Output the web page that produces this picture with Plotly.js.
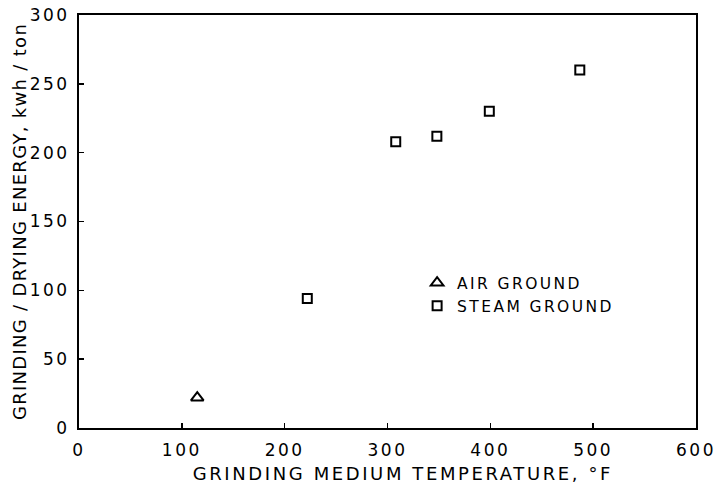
<!DOCTYPE html>
<html>
<head>
<meta charset="utf-8">
<script src="https://cdn.plot.ly/plotly-3.0.1.min.js"></script>
<style>
body{margin:0;background:#fff}
#chart{width:716px;height:490px}
#chart .ytitle{letter-spacing:1.3px}
#chart .xtick text,#chart .ytick text{letter-spacing:2.5px}
#chart .legendtext{letter-spacing:2.4px}
#chart .legend *{clip-path:none !important}
</style>
</head>
<body>
<div id="chart"></div>
<script>
var airTemp = [115];
var airEnergy = [22];
var steamTemp = [222, 308, 348, 399, 487];
var steamEnergy = [94, 208, 212, 230, 260];
var xTicks = [0, 100, 200, 300, 400, 500, 600];
var yTicks = [0, 50, 100, 150, 200, 250, 300];

var font = "DejaVu Sans, sans-serif";
var traces = [
  {x: airTemp, y: airEnergy, type: 'scatter', mode: 'markers', name: 'AIR GROUND',
   marker: {symbol: 'triangle-up-open', size: 11, color: '#000', line: {width: 2, color: '#000'}}},
  {x: steamTemp, y: steamEnergy, type: 'scatter', mode: 'markers', name: 'STEAM GROUND',
   marker: {symbol: 'square-open', size: 9, color: '#000', line: {width: 2, color: '#000'}}}
];
var layout = {
  width: 716, height: 490,
  margin: {l: 79, r: 20, t: 15, b: 62},
  paper_bgcolor: '#fff', plot_bgcolor: '#fff',
  font: {family: font, color: '#000', size: 14},
  showlegend: true,
  legend: {x: 0.548, y: 0.392, xanchor: 'left', yanchor: 'top', bgcolor: 'rgba(0,0,0,0)',
           font: {size: 15.5, family: font}, itemwidth: 30, tracegroupgap: 0},
  xaxis: {range: [0, 600], tickvals: xTicks, ticktext: xTicks.map(String),
          ticks: 'inside', ticklen: 5, tickwidth: 1.5, tickcolor: '#000',
          showline: true, linewidth: 2, linecolor: '#000', mirror: true,
          showgrid: false, zeroline: false, tickfont: {size: 17}, ticklabelstandoff: 6,
          title: {text: ''}},
  yaxis: {range: [0, 300], tickvals: yTicks, ticktext: yTicks.map(String),
          ticks: 'inside', ticklen: 5, tickwidth: 1.5, tickcolor: '#000',
          showline: true, linewidth: 2, linecolor: '#000', mirror: true,
          showgrid: false, zeroline: false, tickfont: {size: 17}, ticklabelstandoff: 4,
          title: {text: 'GRINDING / DRYING ENERGY, kwh / ton', font: {size: 18}, standoff: 6}},
  annotations: [
    {text: 'GRINDING MEDIUM TEMPERATURE, °F', xref: 'paper', yref: 'paper',
     x: 0.525, y: -0.11, xanchor: 'center', yanchor: 'middle', showarrow: false,
     font: {size: 18, family: font}}
  ]
};
Plotly.newPlot('chart', traces, layout, {displayModeBar: false, staticPlot: true}).then(function(){
  var ann = document.querySelectorAll('#chart .annotation-text');
  ann.forEach(function(t){ t.style.letterSpacing = '2.6px'; });
});
</script>
</body>
</html>
